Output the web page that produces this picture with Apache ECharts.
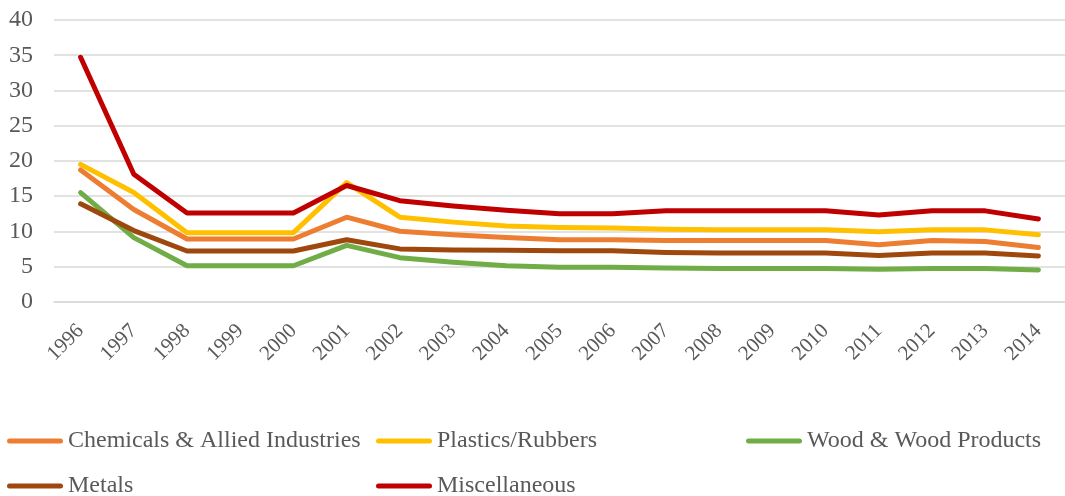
<!DOCTYPE html>
<html>
<head>
<meta charset="utf-8">
<style>
  html, body { margin: 0; padding: 0; background: #ffffff; }
  #chart { width: 1065px; height: 496px; }
</style>
<script src="https://cdn.jsdelivr.net/npm/echarts@6/dist/echarts.min.js"></script>
</head>
<body>
<div id="chart"></div>
<script>
// Years on the category axis
const years = ['1996','1997','1998','1999','2000','2001','2002','2003','2004','2005',
               '2006','2007','2008','2009','2010','2011','2012','2013','2014'];

// Values per sector
const chemicals = [18.7, 13.1, 8.9, 8.9, 8.9, 12.0, 10.0, 9.5, 9.1, 8.8, 8.8, 8.7, 8.7, 8.7, 8.7, 8.1, 8.7, 8.55, 7.7];
const plastics  = [19.5, 15.5, 9.8, 9.8, 9.8, 16.9, 12.0, 11.3, 10.75, 10.55, 10.45, 10.3, 10.2, 10.2, 10.2, 9.95, 10.2, 10.2, 9.5];
const wood      = [15.5, 9.1, 5.1, 5.1, 5.1, 8.0, 6.25, 5.6, 5.1, 4.9, 4.9, 4.8, 4.7, 4.7, 4.7, 4.6, 4.7, 4.7, 4.5];
const metals    = [13.9, 10.1, 7.2, 7.2, 7.2, 8.8, 7.5, 7.35, 7.3, 7.25, 7.25, 7.0, 6.9, 6.9, 6.9, 6.55, 6.9, 6.9, 6.5];
const misc      = [34.7, 18.1, 12.6, 12.6, 12.6, 16.5, 14.35, 13.6, 13.0, 12.5, 12.5, 12.9, 12.9, 12.9, 12.9, 12.3, 12.9, 12.9, 11.75];

// Y axis range and step
const yMin = 0, yMax = 40, yStep = 5;

const seriesDefs = [
  { name: 'Chemicals & Allied Industries', data: chemicals, color: '#ED7D31' },
  { name: 'Plastics/Rubbers',              data: plastics,  color: '#FFC000' },
  { name: 'Wood & Wood Products',          data: wood,      color: '#70AD47' },
  { name: 'Metals',                        data: metals,    color: '#9E480E' },
  { name: 'Miscellaneous',                 data: misc,      color: '#C00000' }
];

// Legend slots (two rows, three columns)
const legendSlots = [
  { left: 7,   top: 429 },
  { left: 376, top: 429 },
  { left: 746, top: 429 },
  { left: 7,   top: 474 },
  { left: 376, top: 474 }
];

// Pill-shaped legend swatch (a thick line with round caps)
const pillIcon = 'path://M2.5,0 L53.5,0 A2.5,2.5 0 0 1 53.5,5 L2.5,5 A2.5,2.5 0 0 1 2.5,0 Z';

const fontFamily = '"Liberation Serif", "Times New Roman", serif';
const textColor = '#595959';
const gridColor = '#D9D9D9';

const chart = echarts.init(document.getElementById('chart'), null, { renderer: 'canvas' });

chart.setOption({
  backgroundColor: '#ffffff',
  animation: false,
  grid: { left: 54, top: 20, width: 1020, height: 281.7 },
  xAxis: {
    type: 'category',
    data: years,
    boundaryGap: true,
    axisLine: { show: true, lineStyle: { color: gridColor, width: 1.5 } },
    axisTick: { show: false },
    axisLabel: {
      interval: 0,
      rotate: 45,
      margin: 26,
      color: textColor,
      fontSize: 21,
      fontFamily: fontFamily
    }
  },
  yAxis: {
    type: 'value',
    min: yMin,
    max: yMax,
    interval: yStep,
    axisLine: { show: false },
    axisTick: { show: false },
    splitLine: { lineStyle: { color: gridColor, width: 1.5 } },
    axisLabel: {
      margin: 21,
      color: textColor,
      fontSize: 24,
      fontFamily: fontFamily
    }
  },
  legend: seriesDefs.map((s, i) => ({
    data: [s.name],
    left: legendSlots[i].left,
    top: legendSlots[i].top,
    padding: 0,
    icon: pillIcon,
    itemWidth: 56,
    itemHeight: 5,
    selectedMode: false,
    textStyle: { color: textColor, fontSize: 24, fontFamily: fontFamily }
  })),
  series: seriesDefs.map(s => ({
    name: s.name,
    type: 'line',
    data: s.data,
    symbol: 'none',
    smooth: false,
    itemStyle: { color: s.color },
    lineStyle: { color: s.color, width: 5, cap: 'round', join: 'round' }
  }))
});
</script>
</body>
</html>
